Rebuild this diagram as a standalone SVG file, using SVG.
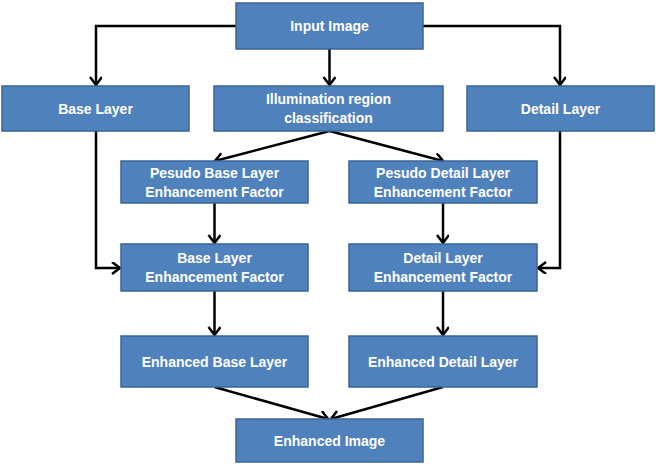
<svg xmlns="http://www.w3.org/2000/svg" width="656" height="464" viewBox="0 0 656 464">
<style>
.box{fill:#4F81BD;stroke:#3A6595;stroke-width:1.5}
.t{font-family:"Liberation Sans",Arial,sans-serif;font-weight:bold;font-size:14px;fill:#fff;text-anchor:middle;dominant-baseline:central}
.c{fill:none;stroke:#000;stroke-width:2.5}
</style>
<defs>
<marker id="a" markerUnits="userSpaceOnUse" markerWidth="16" markerHeight="16" refX="10" refY="6" orient="auto">
<path d="M2,0 L10,6 L2,12" fill="none" stroke="#000" stroke-width="2.5"/>
</marker>
</defs>
<rect width="656" height="464" fill="#fff"/>
<g id="connectors">
<path class="c" d="M236,26 H96 V85" marker-end="url(#a)"/>
<path class="c" d="M423,26 H560 V85" marker-end="url(#a)"/>
<path class="c" d="M329.5,49 V85" marker-end="url(#a)"/>
<path class="c" d="M329.5,131 L215,161" marker-end="url(#a)"/>
<path class="c" d="M329.5,131 L443,161" marker-end="url(#a)"/>
<path class="c" d="M214.5,203 V243" marker-end="url(#a)"/>
<path class="c" d="M443,203 V243" marker-end="url(#a)"/>
<path class="c" d="M96,131 V268 H120" marker-end="url(#a)"/>
<path class="c" d="M560,131 V268 H538" marker-end="url(#a)"/>
<path class="c" d="M214.5,291 V335" marker-end="url(#a)"/>
<path class="c" d="M443,291 V335" marker-end="url(#a)"/>
<path class="c" d="M214.5,387 L328,419" marker-end="url(#a)"/>
<path class="c" d="M443,387 L331,419" marker-end="url(#a)"/>
</g>
<g id="input"><rect class="box" x="236" y="3" width="187" height="46"/><text class="t" x="329.5" y="26">Input Image</text></g>
<g id="base"><rect class="box" x="2" y="86" width="187" height="45"/><text class="t" x="95.5" y="108.5">Base Layer</text></g>
<g id="illum"><rect class="box" x="214" y="86" width="229" height="45"/><text class="t" x="328.5" y="99">Illumination region</text><text class="t" x="328.5" y="118">classification</text></g>
<g id="detail"><rect class="box" x="467" y="86" width="187" height="45"/><text class="t" x="560.5" y="108.5">Detail Layer</text></g>
<g id="pbase"><rect class="box" x="121" y="161" width="187" height="42"/><text class="t" x="214.5" y="173">Pesudo Base Layer</text><text class="t" x="214.5" y="192">Enhancement Factor</text></g>
<g id="pdetail"><rect class="box" x="349" y="161" width="188" height="42"/><text class="t" x="443" y="173">Pesudo Detail Layer</text><text class="t" x="443" y="192">Enhancement Factor</text></g>
<g id="baseef"><rect class="box" x="121" y="244" width="187" height="47"/><text class="t" x="214.5" y="258">Base Layer</text><text class="t" x="214.5" y="277">Enhancement Factor</text></g>
<g id="detailef"><rect class="box" x="349" y="244" width="188" height="47"/><text class="t" x="443" y="258">Detail Layer</text><text class="t" x="443" y="277">Enhancement Factor</text></g>
<g id="enbase"><rect class="box" x="121" y="336" width="187" height="51"/><text class="t" x="214.5" y="361.5">Enhanced Base Layer</text></g>
<g id="endetail"><rect class="box" x="349" y="336" width="188" height="51"/><text class="t" x="443" y="361.5">Enhanced Detail Layer</text></g>
<g id="enimage"><rect class="box" x="236" y="419" width="187" height="43"/><text class="t" x="329.5" y="440.5">Enhanced Image</text></g>
</svg>
